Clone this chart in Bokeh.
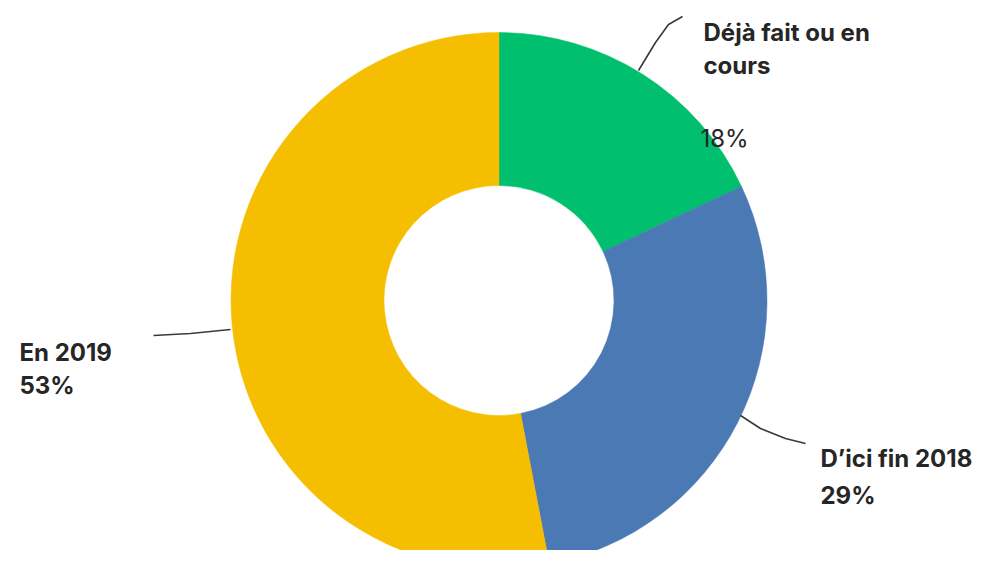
import numpy as np
from bokeh.plotting import figure
from bokeh.models import Range1d, ColumnDataSource
from bokeh.core.properties import value
from bokeh.embed import file_html
from bokeh.resources import INLINE

# Data
categories = ["Déjà fait ou en cours", "D’ici fin 2018", "En 2019"]
shares = [18, 29, 53]
colors = ["#00BF6F", "#4B79B4", "#F5BE00"]

W, H = 991, 566
p = figure(width=975, height=550, output_backend="svg", toolbar_location=None,
           x_range=Range1d(0, 975), y_range=Range1d(16, 566), min_border=0)
p.axis.visible = False
p.grid.visible = False
p.outline_line_color = None
p.background_fill_color = "white"

def Y(img_y):
    return H - img_y

cx, cy = 498.5, Y(300)
frac = np.array(shares, dtype=float) / sum(shares)
cum = np.concatenate([[0], np.cumsum(frac)])
start = np.pi / 2 - 2 * np.pi * cum[:-1]
end = np.pi / 2 - 2 * np.pi * cum[1:]
src = ColumnDataSource(dict(start=start, end=end, color=colors, cat=categories))
p.annular_wedge(x=cx, y=cy, inner_radius=115, outer_radius=268,
                start_angle="start", end_angle="end", direction="clock",
                fill_color="color", line_color="color", line_width=0.5, source=src)

# Leader lines
line_col = "#3a3a3a"
p.line([638, 655, 668, 682], [Y(70), Y(42), Y(24), Y(16)], line_color=line_col, line_width=1.6)
p.line([153, 190, 230], [Y(335), Y(333), Y(329)], line_color=line_col, line_width=1.6)
p.line([740, 760, 785, 805], [Y(415), Y(428), Y(438), Y(443)], line_color=line_col, line_width=1.6)

font = value("Inter")
tc = "#262626"
def label(x, yimg, txt, bold=True):
    p.text(x=[x], y=[Y(yimg)], text=[txt], text_font=font, text_font_size="24px",
           text_font_style="bold" if bold else "normal", text_color=tc,
           text_baseline="alphabetic", text_align="left")

label(703, 32, "Déjà fait ou en")
label(703, 65, "cours")
label(700, 138, f"{shares[0]}%", bold=False)
label(820, 458, "D’ici fin 2018")
label(820, 495, f"{shares[1]}%")
label(19, 352, "En 2019")
label(19, 385, f"{shares[2]}%")

open("out.html", "w").write(file_html(p, INLINE))
